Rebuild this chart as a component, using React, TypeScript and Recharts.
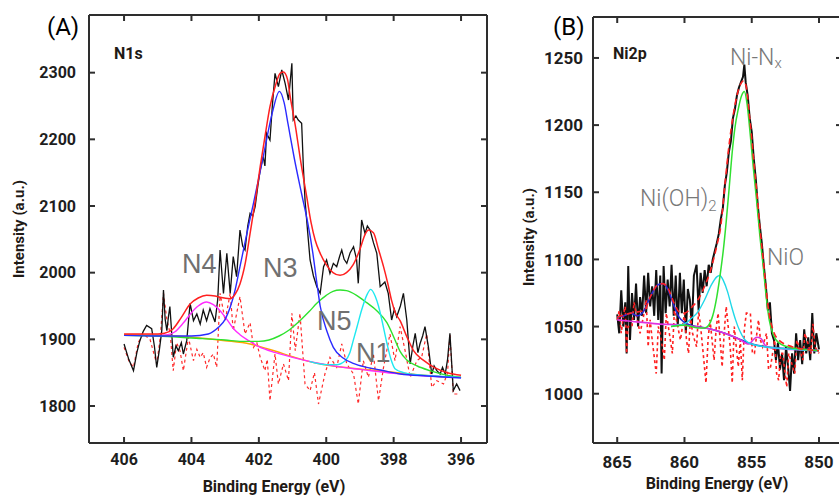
import React from 'react';
import { LineChart, Line, XAxis, YAxis } from 'recharts';

type Pt = [number, number];

// (A) N1s  [binding energy eV, intensity]
const n1sXTicks = [406, 404, 402, 400, 398, 396];
const n1sYTicks = [1800, 1900, 2000, 2100, 2200, 2300];

const n1sRaw: Pt[] = [
  [406.0, 1893], [405.86, 1870], [405.72, 1853], [405.62, 1880], [405.53, 1898], [405.43, 1912], [405.33, 1921],
  [405.18, 1916], [405.1, 1890], [405.03, 1858], [404.95, 1885], [404.88, 1913], [404.83, 1974], [404.78, 1930],
  [404.73, 1913], [404.68, 1935], [404.64, 1949], [404.58, 1905], [404.54, 1873], [404.46, 1890], [404.39, 1883],
  [404.3, 1895], [404.24, 1878], [404.14, 1898], [404.04, 1954], [403.94, 1928], [403.84, 1938], [403.74, 1923],
  [403.65, 1944], [403.55, 1928], [403.45, 1946], [403.3, 1926], [403.22, 1960], [403.15, 2034], [403.05, 1969],
  [402.95, 2029], [402.85, 1969], [402.76, 2024], [402.66, 1994], [402.56, 2064], [402.48, 2040], [402.41, 2034],
  [402.33, 2070], [402.26, 2089], [402.18, 2085], [402.11, 2099], [402.03, 2130], [401.96, 2154], [401.87, 2174],
  [401.82, 2160], [401.77, 2209], [401.67, 2199], [401.6, 2250], [401.52, 2299], [401.42, 2279], [401.32, 2304],
  [401.22, 2284], [401.12, 2259], [401.02, 2314], [400.98, 2229], [400.9, 2235], [400.83, 2229], [400.73, 2224],
  [400.68, 2160], [400.63, 2109], [400.55, 2060], [400.48, 2019], [400.38, 1995], [400.28, 1979], [400.18, 1969],
  [400.08, 2009], [399.99, 2019], [399.89, 1999], [399.79, 2014], [399.69, 2009], [399.6, 2025], [399.54, 2034],
  [399.47, 2020], [399.39, 2014], [399.29, 2030], [399.19, 2039], [399.1, 2020], [399.05, 1984], [398.95, 2079],
  [398.85, 2059], [398.78, 2070], [398.7, 2064], [398.6, 2045], [398.5, 2029], [398.4, 1979], [398.26, 1986],
  [398.16, 1969], [398.06, 1929], [397.98, 1945], [397.91, 1934], [397.8, 1950], [397.71, 1969], [397.61, 1929],
  [397.51, 1863], [397.43, 1890], [397.36, 1909], [397.28, 1880], [397.22, 1893], [397.14, 1905], [397.07, 1919],
  [396.97, 1889], [396.87, 1848], [396.8, 1860], [396.72, 1853], [396.62, 1848], [396.55, 1858], [396.47, 1848],
  [396.4, 1870], [396.33, 1909], [396.23, 1823], [396.13, 1833], [396.03, 1823],
];

const n1sResidual: Pt[] = [
  [406.0, 1888], [405.86, 1868], [405.72, 1858], [405.58, 1895], [405.43, 1908], [405.23, 1900], [405.03, 1863],
  [404.92, 1905], [404.83, 1969], [404.73, 1930], [404.63, 1908], [404.54, 1853], [404.44, 1895], [404.34, 1883],
  [404.24, 1853], [404.09, 1903], [403.94, 1868], [403.84, 1885], [403.74, 1873], [403.65, 1880], [403.55, 1858],
  [403.45, 1872], [403.35, 1878], [403.25, 1858], [403.15, 1969], [403.0, 1928], [402.85, 1969], [402.76, 1913],
  [402.56, 1964], [402.41, 1908], [402.26, 1925], [402.16, 1888], [402.06, 1895], [401.96, 1873], [401.82, 1853],
  [401.75, 1870], [401.67, 1808], [401.52, 1878], [401.42, 1833], [401.27, 1863], [401.12, 1838], [401.02, 1939],
  [400.92, 1883], [400.78, 1939], [400.63, 1833], [400.48, 1823], [400.35, 1850], [400.23, 1803], [400.04, 1848],
  [399.89, 1873], [399.69, 1858], [399.54, 1893], [399.39, 1863], [399.19, 1848], [399.05, 1803], [398.9, 1868],
  [398.75, 1843], [398.6, 1878], [398.45, 1808], [398.3, 1858], [398.11, 1908], [397.96, 1868], [397.81, 1919],
  [397.66, 1883], [397.51, 1843], [397.31, 1868], [397.17, 1873], [397.02, 1908], [396.87, 1828], [396.72, 1838],
  [396.52, 1833], [396.4, 1850], [396.33, 1908], [396.23, 1818], [396.03, 1818],
];

const n1sEnvelope: Pt[] = [
  [406.0, 1908], [405.0, 1908], [404.8, 1909], [404.54, 1916], [404.3, 1933], [404.04, 1953], [403.8, 1962],
  [403.55, 1966], [403.3, 1965], [403.15, 1963], [402.85, 1961], [402.7, 1968], [402.56, 1983], [402.4, 2015],
  [402.26, 2059], [402.1, 2110], [401.96, 2159], [401.8, 2210], [401.67, 2249], [401.5, 2282], [401.37, 2299],
  [401.27, 2301], [401.15, 2290], [401.07, 2264], [400.9, 2215], [400.78, 2174], [400.58, 2114], [400.45, 2075],
  [400.33, 2049], [400.18, 2029], [400.0, 2012], [399.8, 2000], [399.59, 1996], [399.4, 2000], [399.2, 2012],
  [399.0, 2035], [398.85, 2057], [398.75, 2064], [398.6, 2060], [398.45, 2035], [398.3, 2009], [398.18, 1985],
  [398.06, 1958], [397.95, 1940], [397.81, 1928], [397.6, 1903], [397.41, 1883], [397.1, 1868], [396.8, 1858],
  [396.4, 1850], [396.0, 1846],
];

const n1sN3: Pt[] = [
  [406.0, 1906], [405.0, 1905], [404.0, 1905], [403.5, 1908], [403.2, 1918], [403.0, 1930], [402.85, 1948],
  [402.7, 1975], [402.56, 2009], [402.35, 2060], [402.16, 2104], [401.87, 2174], [401.6, 2240], [401.39, 2272],
  [401.25, 2255], [401.13, 2222], [400.95, 2172], [400.73, 2118], [400.55, 2075], [400.4, 2030], [400.28, 1985],
  [400.18, 1950], [399.98, 1912], [399.79, 1888], [399.5, 1872], [399.2, 1864], [398.8, 1858], [398.4, 1854],
  [397.8, 1848], [397.0, 1845], [396.0, 1842],
];

const n1sN5: Pt[] = [
  [406.0, 1906], [405.0, 1905], [404.0, 1902], [403.0, 1899], [402.5, 1897], [402.0, 1897], [401.7, 1899],
  [401.4, 1905], [401.1, 1914], [400.78, 1928], [400.5, 1942], [400.28, 1954], [400.0, 1966], [399.8, 1972],
  [399.59, 1974], [399.4, 1973], [399.1, 1966], [398.8, 1955], [398.5, 1943], [398.2, 1925], [397.95, 1898],
  [397.81, 1882], [397.61, 1869], [397.3, 1860], [396.92, 1853], [396.5, 1847], [396.0, 1843],
];

const n1sN4: Pt[] = [
  [406.0, 1906], [405.0, 1906], [404.7, 1907], [404.5, 1911], [404.25, 1924], [404.0, 1940], [403.8, 1950],
  [403.55, 1956], [403.35, 1952], [403.15, 1943], [402.95, 1930], [402.75, 1916], [402.56, 1907], [402.3, 1898],
  [402.0, 1889], [401.5, 1880], [401.0, 1873], [400.5, 1867], [400.0, 1862], [399.5, 1858], [399.0, 1855],
  [398.0, 1849], [397.0, 1845], [396.0, 1843],
];

const n1sN1: Pt[] = [
  [400.5, 1867], [400.0, 1862], [399.7, 1862], [399.44, 1868], [399.3, 1880], [399.2, 1898], [399.08, 1920],
  [398.95, 1944], [398.8, 1966], [398.68, 1975], [398.55, 1965], [398.45, 1950], [398.35, 1929], [398.2, 1894],
  [398.08, 1870], [397.96, 1856], [397.7, 1850], [397.3, 1847], [396.8, 1845], [396.0, 1843],
];

const n1sBackground: Pt[] = [
  [406.0, 1907], [405.0, 1906], [404.0, 1903], [403.0, 1898], [402.26, 1893], [401.5, 1882], [401.0, 1874],
  [400.28, 1864], [399.5, 1858], [398.3, 1852], [397.3, 1847], [396.13, 1843], [396.0, 1843],
];

// (B) Ni2p
const ni2pXTicks = [865, 860, 855, 850];
const ni2pYTicks = [1000, 1050, 1100, 1150, 1200, 1250];

const ni2pRaw: Pt[] = [
  [865.0, 1059], [864.85, 1045], [864.7, 1077], [864.55, 1050], [864.4, 1068], [864.3, 1030], [864.18, 1095],
  [864.05, 1040], [863.9, 1075], [863.75, 1055], [863.6, 1082], [863.45, 1050], [863.3, 1072], [863.15, 1058],
  [863.0, 1088], [862.85, 1060], [862.7, 1090], [862.55, 1065], [862.4, 1080], [862.25, 1058], [862.1, 1092],
  [861.95, 1055], [861.8, 1088], [861.7, 1015], [861.55, 1095], [861.4, 1060], [861.25, 1085], [861.1, 1065],
  [860.96, 1096], [860.8, 1058], [860.65, 1088], [860.5, 1050], [860.34, 1090], [860.2, 1060], [860.05, 1085],
  [859.9, 1045], [859.75, 1078], [859.6, 1070], [859.45, 1050], [859.3, 1088], [859.1, 1096], [858.95, 1062],
  [858.8, 1090], [858.65, 1075], [858.5, 1092], [858.35, 1080], [858.2, 1096], [858.05, 1090], [857.9, 1100],
  [857.75, 1106], [857.6, 1112], [857.45, 1119], [857.3, 1130], [857.15, 1138], [857.0, 1155], [856.85, 1165],
  [856.7, 1180], [856.55, 1188], [856.4, 1205], [856.25, 1212], [856.1, 1222], [855.95, 1228], [855.8, 1232],
  [855.65, 1236], [855.55, 1245], [855.45, 1232], [855.3, 1222], [855.15, 1205], [855.0, 1195], [854.85, 1175],
  [854.7, 1160], [854.55, 1140], [854.4, 1125], [854.25, 1112], [854.1, 1095], [853.95, 1080], [853.8, 1062],
  [853.65, 1068], [853.5, 1045], [853.35, 1040], [853.2, 1025], [853.05, 1038], [852.9, 1018], [852.75, 1030],
  [852.6, 1010], [852.45, 1035], [852.3, 1020], [852.15, 1002], [852.0, 1030], [851.85, 1015], [851.7, 1045],
  [851.55, 1025], [851.4, 1040], [851.25, 1022], [851.1, 1048], [850.95, 1030], [850.8, 1042], [850.65, 1025],
  [850.5, 1060], [850.35, 1030], [850.2, 1045], [850.0, 1033],
];

const ni2pResidual: Pt[] = [
  [865.0, 1055], [864.85, 1062], [864.7, 1045], [864.55, 1058], [864.4, 1065], [864.3, 1030], [864.2, 1050],
  [863.9, 1050], [863.75, 1068], [863.6, 1060], [863.3, 1045], [863.0, 1060], [862.85, 1070], [862.7, 1035],
  [862.55, 1055], [862.4, 1040], [862.1, 1015], [861.95, 1050], [861.8, 1045], [861.5, 1025], [861.35, 1060],
  [861.2, 1050], [860.9, 1030], [860.75, 1062], [860.6, 1055], [860.3, 1040], [860.0, 1060], [859.85, 1040],
  [859.7, 1030], [859.55, 1058], [859.4, 1045], [859.1, 1035], [858.95, 1062], [858.8, 1050], [858.4, 1008],
  [858.25, 1040], [858.1, 1055], [857.8, 1025], [857.65, 1048], [857.5, 1060], [857.2, 1020], [857.05, 1045],
  [856.9, 1065], [856.6, 1035], [856.45, 1008], [856.3, 1050], [856.0, 1020], [855.85, 1040], [855.7, 1010],
  [855.55, 1048], [855.4, 1060], [855.1, 1060], [854.95, 1030], [854.8, 1030], [854.5, 1055], [854.35, 1040],
  [854.2, 1035], [853.9, 1045], [853.75, 1018], [853.6, 1020], [853.3, 1040], [853.15, 1015], [853.0, 1010],
  [852.85, 1030], [852.7, 1030], [852.4, 1005], [852.25, 1030], [852.1, 1025], [851.8, 1015], [851.65, 1040],
  [851.5, 1035], [851.2, 1025], [851.05, 1045], [850.9, 1040], [850.6, 1030], [850.45, 1052], [850.3, 1035],
  [850.0, 1030],
];

const ni2pEnvelope: Pt[] = [
  [865.0, 1057], [864.0, 1060], [863.0, 1062], [862.5, 1073], [862.0, 1081], [861.6, 1082], [861.2, 1078],
  [860.8, 1068], [860.4, 1061], [860.0, 1060], [859.5, 1064], [859.0, 1070], [858.5, 1080], [858.0, 1094],
  [857.6, 1110], [857.3, 1125], [857.0, 1155], [856.7, 1184], [856.4, 1206], [856.1, 1222], [855.8, 1231],
  [855.6, 1233], [855.4, 1228], [855.2, 1210], [855.0, 1190], [854.8, 1168], [854.6, 1148], [854.4, 1124],
  [854.15, 1100], [853.9, 1075], [853.7, 1059], [853.4, 1047], [853.0, 1040], [852.0, 1035], [851.0, 1033],
  [850.0, 1032],
];

const ni2pSatellite: Pt[] = [
  [865.0, 1057], [864.5, 1058], [864.0, 1060], [863.5, 1058], [863.0, 1062], [862.5, 1073], [862.0, 1081],
  [861.6, 1082], [861.2, 1077], [860.8, 1066], [860.4, 1057], [860.0, 1053], [859.5, 1051], [858.5, 1049],
  [858.0, 1048], [857.0, 1045], [856.0, 1041], [855.0, 1037], [854.0, 1035], [853.0, 1034], [851.0, 1033],
  [850.0, 1032],
];

const ni2pNiOH2: Pt[] = [
  [861.0, 1050], [860.5, 1051], [860.0, 1052], [859.5, 1056], [859.0, 1061], [858.5, 1070], [858.0, 1081],
  [857.6, 1087], [857.37, 1088], [857.1, 1084], [856.8, 1076], [856.5, 1065], [856.2, 1055], [855.9, 1047],
  [855.5, 1040], [855.0, 1037], [854.0, 1035], [852.0, 1033], [850.0, 1032],
];

const ni2pNiNx: Pt[] = [
  [861.0, 1050], [860.0, 1051], [859.0, 1049], [858.5, 1049], [858.2, 1051], [857.9, 1058], [857.6, 1072],
  [857.3, 1092], [857.1, 1108], [856.9, 1128], [856.67, 1154], [856.45, 1180], [856.25, 1198], [856.0, 1212],
  [855.75, 1222], [855.55, 1225], [855.35, 1216], [855.14, 1196], [854.9, 1170], [854.64, 1144], [854.4, 1118],
  [854.15, 1095], [853.9, 1070], [853.7, 1055], [853.4, 1044], [853.0, 1038], [852.0, 1034], [851.0, 1033],
  [850.0, 1032],
];

const ni2pNiO: Pt[] = [
  [865.0, 1055], [864.0, 1054], [862.0, 1052], [860.0, 1051], [858.0, 1048], [857.0, 1045], [856.0, 1041],
  [855.2, 1037], [854.9, 1040], [854.64, 1042], [854.3, 1041], [854.0, 1036], [853.5, 1034], [852.0, 1033],
  [850.0, 1032],
];

const toPts = (arr: Pt[]) => arr.map(([x, y]) => ({ x, y }));

const axisColor = '#2e2e2e';
const TICK_LEN = 6; // inward tick marks, px
const TICK_GAP = 10;
const Y_AXIS_W = 60;
const X_AXIS_H = 30;
const SIDE = 5; // top / right frame axes

type Series = { data: Pt[]; stroke: string; width: number; dash?: string; smooth?: boolean };

const n1sSeries: Series[] = [
  { data: n1sResidual, stroke: '#ff2a2a', width: 1.2, dash: '3 3' },
  { data: n1sRaw, stroke: '#111111', width: 1.3 },
  { data: n1sBackground, stroke: '#ffa500', width: 1.5, smooth: true },
  { data: n1sN4, stroke: '#ff2cff', width: 1.4, smooth: true },
  { data: n1sN5, stroke: '#2ee22e', width: 1.4, smooth: true },
  { data: n1sN1, stroke: '#1ee8f0', width: 1.4, smooth: true },
  { data: n1sN3, stroke: '#2a2aff', width: 1.4, smooth: true },
  { data: n1sEnvelope, stroke: '#ff2020', width: 1.5, smooth: true },
];

const ni2pSeries: Series[] = [
  { data: ni2pRaw, stroke: '#111111', width: 2 },
  { data: ni2pResidual, stroke: '#ff2020', width: 1.6, dash: '3 3' },
  { data: ni2pSatellite, stroke: '#2a2ad0', width: 1.6, smooth: true },
  { data: ni2pNiO, stroke: '#e030e0', width: 1.6, smooth: true },
  { data: ni2pNiOH2, stroke: '#20d8e8', width: 1.4, smooth: true },
  { data: ni2pNiNx, stroke: '#30e030', width: 1.5, smooth: true },
  { data: ni2pEnvelope, stroke: '#ff2020', width: 1.6, dash: '6 4', smooth: true },
];

const makeLabel = (side: 'bottom' | 'left', fontSize: number, shift: number) => (props: any) => {
  const { x, y, payload } = props;
  const font = { fill: '#1e1e1e', fontWeight: 700, fontFamily: 'Roboto, sans-serif', fontSize };
  if (side === 'bottom') {
    return <text x={x} y={y - TICK_GAP + shift} textAnchor="middle" {...font}>{payload.value}</text>;
  }
  return <text x={x + TICK_GAP - shift} y={y} dy="0.36em" textAnchor="end" {...font}>{payload.value}</text>;
};

interface PanelProps {
  left: number;
  width: number;
  margin: { top: number; right: number; bottom: number; left: number };
  xDomain: [number, number];
  yDomain: [number, number];
  xTicks: number[];
  yTicks: number[];
  xLabelShift: number;
  yLabelShift: number;
  fontSize: number;
  series: Series[];
}

const Panel: React.FC<PanelProps> = ({ left, width, margin, xDomain, yDomain, xTicks, yTicks, xLabelShift, yLabelShift, fontSize, series }) => {
  const axisLine = { stroke: axisColor, strokeWidth: 2 };
  const common = { tickSize: 0, tickMargin: TICK_GAP, tickLine: false, axisLine, interval: 0 as const, allowDataOverflow: true };
  // plot box, same layout numbers as the chart below
  const pl = margin.left + Y_AXIS_W;
  const pr = width - margin.right - SIDE;
  const pt = margin.top + SIDE;
  const pb = 497 - margin.bottom - X_AXIS_H;
  const sx = (v: number) => pl + ((xDomain[1] - v) / (xDomain[1] - xDomain[0])) * (pr - pl);
  const sy = (v: number) => pb - ((v - yDomain[0]) / (yDomain[1] - yDomain[0])) * (pb - pt);
  return (
    <div style={{ position: 'absolute', left, top: 0 }}>
      <LineChart width={width} height={497} margin={margin}>
        <XAxis xAxisId="b" dataKey="x" type="number" domain={xDomain} reversed ticks={xTicks} height={X_AXIS_H} {...common}
          tick={makeLabel('bottom', fontSize, xLabelShift)} />
        <XAxis xAxisId="t" orientation="top" dataKey="x" type="number" domain={xDomain} reversed ticks={xTicks} height={SIDE} {...common}
          tick={false} />
        <YAxis yAxisId="l" type="number" domain={yDomain} ticks={yTicks} width={Y_AXIS_W} {...common}
          tick={makeLabel('left', fontSize, yLabelShift)} />
        <YAxis yAxisId="r" orientation="right" type="number" domain={yDomain} ticks={yTicks} width={SIDE} {...common}
          tick={false} />
        {series.map((s, i) => (
          <Line key={i} xAxisId="b" yAxisId="l" data={toPts(s.data)} dataKey="y" type={s.smooth ? 'monotone' : 'linear'}
            stroke={s.stroke} strokeWidth={s.width} strokeDasharray={s.dash} dot={false} activeDot={false}
            isAnimationActive={false} />
        ))}
      </LineChart>
      <svg width={width} height={497} style={{ position: 'absolute', left: 0, top: 0, pointerEvents: 'none' }}>
        <g stroke={axisColor} strokeWidth={2}>
          {xTicks.map((t) => (
            <g key={`x${t}`}>
              <line x1={sx(t)} x2={sx(t)} y1={pb} y2={pb - TICK_LEN} />
              <line x1={sx(t)} x2={sx(t)} y1={pt} y2={pt + TICK_LEN} />
            </g>
          ))}
          {yTicks.map((t) => (
            <g key={`y${t}`}>
              <line x1={pl} x2={pl + TICK_LEN} y1={sy(t)} y2={sy(t)} />
              <line x1={pr} x2={pr - TICK_LEN} y1={sy(t)} y2={sy(t)} />
            </g>
          ))}
        </g>
      </svg>
    </div>
  );
};

const grayLabel = { fill: '#707070', fontFamily: '"Liberation Sans", Arial, sans-serif', fontSize: 27 };
const lightLabel = { fill: '#787878', fontFamily: 'Roboto, sans-serif', fontWeight: 300, fontSize: 23 };
const titleFont = { fill: '#1f1a16', fontFamily: 'Roboto, sans-serif', fontWeight: 700 };

export default function App() {
  return (
    <div style={{ position: 'absolute', left: 0, top: 0, width: 839, height: 497, overflow: 'hidden', background: '#fff' }}>
      <Panel left={0} width={500} margin={{ top: 10, right: 8, bottom: 24, left: 29 }}
        xDomain={[395.23, 407.04]} yDomain={[1744.5, 2386.5]} xTicks={n1sXTicks} yTicks={n1sYTicks}
        xLabelShift={21.5} yLabelShift={13} fontSize={16} series={n1sSeries} />
      <Panel left={520} width={330} margin={{ top: 12, right: 3, bottom: 24, left: 13 }}
        xDomain={[848.29, 866.8]} yDomain={[963.3, 1280.5]} xTicks={ni2pXTicks} yTicks={ni2pYTicks}
        xLabelShift={24.5} yLabelShift={10} fontSize={17} series={ni2pSeries} />
      <svg width={839} height={497} style={{ position: 'absolute', left: 0, top: 0, pointerEvents: 'none' }}>
        <text x={47} y={35} fontSize={24} fontFamily="Roboto, sans-serif" fill="#000">(A)</text>
        <text x={553} y={35} fontSize={24} fontFamily="Roboto, sans-serif" fill="#000">(B)</text>
        <text x={114} y={59} fontSize={16} {...titleFont}>N1s</text>
        <text x={613} y={59} fontSize={16} {...titleFont}>Ni2p</text>
        <text x={24} y={229} fontSize={15} textAnchor="middle" transform="rotate(-90 24 229)" {...titleFont}>Intensity (a.u.)</text>
        <text x={534} y={237} fontSize={15} textAnchor="middle" transform="rotate(-90 534 237)" {...titleFont}>Intensity (a.u.)</text>
        <text x={274} y={492} fontSize={16} textAnchor="middle" {...titleFont}>Binding Energy (eV)</text>
        <text x={717} y={489} fontSize={16} textAnchor="middle" {...titleFont}>Binding Energy (eV)</text>
        <text x={182} y={273} {...grayLabel}>N4</text>
        <text x={263} y={277} {...grayLabel}>N3</text>
        <text x={317} y={330} {...grayLabel}>N5</text>
        <text x={356} y={362} {...grayLabel}>N1</text>
        <text x={730} y={65} {...lightLabel}>Ni-N<tspan fontSize={15} dy={3}>x</tspan></text>
        <text x={640} y={206} {...lightLabel}>Ni(OH)<tspan fontSize={15} dy={5}>2</tspan></text>
        <text x={767} y={265} {...lightLabel}>NiO</text>
      </svg>
    </div>
  );
}
